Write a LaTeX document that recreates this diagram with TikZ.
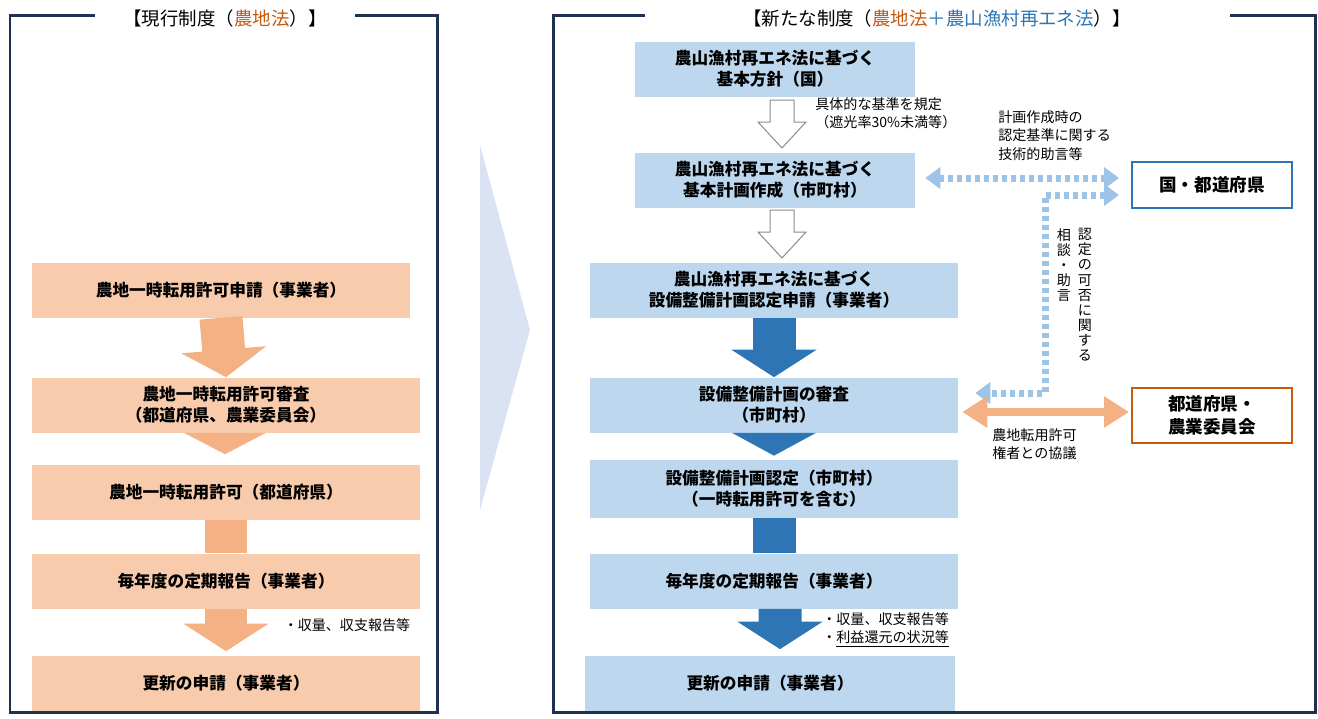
\documentclass[tikz,border=0pt]{standalone}
\usepackage{fontspec}
\setmainfont{Noto Sans CJK JP}
\usepackage{tikz}
\usetikzlibrary{positioning, calc}
\usetikzlibrary{arrows.meta}
\definecolor{navy}{HTML}{1F3050}
\definecolor{peach}{HTML}{F8CBAD}
\definecolor{peachdark}{HTML}{F4B183}
\definecolor{paleblue}{HTML}{BDD7EE}
\definecolor{midblue}{HTML}{2E75B6}
\definecolor{dotblue}{HTML}{9DC3E6}
\definecolor{rust}{HTML}{C55A11}
\definecolor{lavender}{HTML}{DAE3F3}
\tikzset{>={Triangle[length=0.3cm 0 0,width=0.42cm 0 0]}}

\begin{document}
\begin{tikzpicture}[x=0.02cm, y=-0.02cm, font=\fontsize{9.5}{12}\selectfont,
    frame/.style={draw=navy, line width=0.06cm},
    oldbox/.style={rectangle, fill=peach, minimum height=1.1cm, font=\fontsize{9.5}{12}\selectfont\bfseries, align=center},
    newbox/.style={rectangle, fill=paleblue, minimum height=1.1cm, font=\fontsize{9.5}{12}\selectfont\bfseries, align=center},
    sidebox/.style={rectangle, fill=white, line width=0.04cm, minimum width=3.2cm, font=\fontsize{10}{13}\selectfont\bfseries, align=center},
    bigarrow/.style={line width=0.86cm, -{Triangle[length=0.55cm 0 0,width=1.68cm 0 0]}},
    outarrow/.style={draw=black!45, fill=white, line width=0.02cm},
    dotarrow/.style={draw=dotblue, line width=0.14cm, dash pattern=on 0.1cm off 0.08cm},
    note/.style={font=\fontsize{8}{10.5}\selectfont, align=left, inner sep=0pt}]
    \useasboundingbox (0,0) rectangle (1318,718);

    %Frames
    \draw[frame] (95,15) -- (10,15) -- (10,712) -- (437,712) -- (437,15) -- (355,15);
    \draw[frame] (645,15) -- (553,15) -- (553,712) -- (1315,712) -- (1315,15) -- (1230,15);
    \node[font=\fontsize{10.5}{13}\selectfont](oldtitle) at (225,18){【現行制度（\textcolor{rust}{農地法}）】};
    \node[font=\fontsize{10.5}{13}\selectfont](newtitle) at (937,18){【新たな制度（\textcolor{rust}{農地法}\textcolor{midblue}{＋農山漁村再エネ法}）】};
    \fill[lavender] (480,145) -- (530,330) -- (480,510) -- cycle;

    %Nodes (left)
    \node[oldbox, minimum width=7.56cm](apply) at (221,290){農地一時転用許可申請（事業者）};
    \node[oldbox, minimum width=7.76cm](review) at (226,405){農地一時転用許可審査\\（都道府県、農業委員会）};
    \node[oldbox, minimum width=7.76cm](permit) at (226,492){農地一時転用許可（都道府県）};
    \node[oldbox, minimum width=7.76cm](report) at (226,581){毎年度の定期報告（事業者）};
    \node[oldbox, minimum width=7.76cm](renew) at (226,683){更新の申請（事業者）};
    \node[note](oldnote) at (347,625){・収量、収支報告等};

    %Nodes (right)
    \node[newbox, minimum width=5.6cm](policy) at (775,69){農山漁村再エネ法に基づく\\基本方針（国）};
    \node[newbox, minimum width=5.6cm](plan) at (775,180){農山漁村再エネ法に基づく\\基本計画作成（市町村）};
    \node[newbox, minimum width=7.36cm](request) at (774,290){農山漁村再エネ法に基づく\\設備整備計画認定申請（事業者）};
    \node[newbox, minimum width=7.36cm](check) at (774,405){設備整備計画の審査\\（市町村）};
    \node[newbox, minimum width=7.36cm, minimum height=1.16cm](certify) at (774,489){設備整備計画認定（市町村）\\（一時転用許可を含む）};
    \node[newbox, minimum width=7.36cm](yearly) at (774,581){毎年度の定期報告（事業者）};
    \node[newbox, minimum width=7.4cm](renewal) at (770,683){更新の申請（事業者）};
    \node[sidebox, draw=midblue, minimum height=0.92cm](kuni) at (1212,185){国・都道府県};
    \node[sidebox, draw=rust, minimum height=1.1cm](iinkai) at (1212,415){都道府県・\\農業委員会};
    \node[note, anchor=north west](standard) at (815,97){具体的な基準を規定\\（遮光率30\%未満等）};
    \node[note, anchor=north west](advice) at (998,110){計画作成時の\\認定基準に関する\\技術的助言等};
    \node[note, anchor=north, align=center, font=\fontsize{8}{8.6}\selectfont](vert1) at (1085,228){認\\定\\の\\可\\否\\に\\関\\す\\る};
    \node[note, anchor=north, align=center, font=\fontsize{8}{8.6}\selectfont](vert2) at (1064,228){相\\談\\・\\助\\言};
    \node[note, anchor=north west](consult) at (992,428){農地転用許可\\権者との協議};
    \node[note, anchor=north west](newnote) at (822,612){・収量、収支報告等\\・\underline{利益還元の状況等}};
    \coordinate(turn) at (1045,393);

    %Lines (left)
    \draw[peachdark, bigarrow] (apply.south) -- (review.north);
    \fill[peachdark] ($(review.south)+(-42,0)$) -- ($(review.south)+(40,0)$) -- ($(permit.north)+(-1,-10)$) -- cycle;
    \draw[peachdark, line width=0.86cm] (permit.south) -- (report.north);
    \draw[peachdark, bigarrow] (report.south) -- ([yshift=0.08cm]renew.north);

    %Lines (right)
    \draw[outarrow] (770,100) -- (794,100) -- (794,122) -- (806,122) -- (782,148) -- (758,122) -- (770,122) -- cycle;
    \draw[outarrow] (770,210) -- (794,210) -- (794,232) -- (806,232) -- (782,258) -- (758,232) -- (770,232) -- cycle;
    \draw[midblue, bigarrow] (request.south) -- (check.north);
    \fill[midblue] ($(check.south)+(-42,0)$) -- ($(check.south)+(42,0)$) -- ($(certify.north)+(0,-4)$) -- cycle;
    \draw[midblue, line width=0.86cm] (certify.south) -- (yearly.north);
    \draw[midblue, bigarrow] ([xshift=0.12cm]yearly.south) -- ([xshift=0.2cm, yshift=0.12cm]renewal.north);
    \draw[dotarrow, <->] ($(plan.east)+(10,-2)$) -- ($(kuni.west)+(-12,-7)$);
    \draw[dotarrow, <->] ($(kuni.west)+(-12,10)$) -| (turn) -- ($(check.east)+(17,-12)$);
    \draw[peachdark, line width=0.16cm, {Triangle[length=0.5cm 0 0,width=0.6cm 0 0]}-{Triangle[length=0.5cm 0 0,width=0.6cm 0 0]}] ($(check.east)+(4,7)$) -- ($(iinkai.west)+(-2,-3)$);
\end{tikzpicture}
\end{document}
